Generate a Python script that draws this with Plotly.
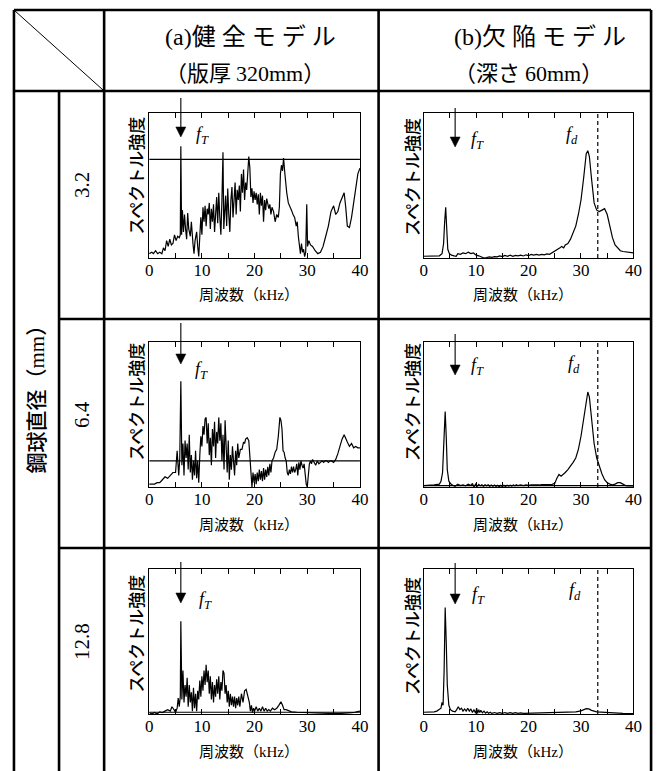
import plotly.graph_objects as go

# page geometry: the page body has an 8px margin, so the figure is offset by OFF
PAGE_W, PAGE_H = 664, 771
OFF = 8
W, H = PAGE_W - OFF, PAGE_H - OFF

# ---------------- data (normalised spectral intensity, frame height = 1) ----------------
freq_a32 = [0.0,0.5,0.8,1.2,1.6,2.0,2.4,2.7,3.0,3.3,3.6,3.9,4.2,4.5,4.8,5.1,5.4,5.7,5.9,6.0,6.15,6.3,6.5,6.7,6.9,7.1,7.3,7.5,7.8,8.0,8.3,8.5,8.7,9.0,9.2,9.4,9.6,9.8,10.0,10.2,10.4,10.6,10.8,11.0,11.2,11.4,11.6,11.8,12.0,12.2,12.4,12.6,12.8,13.0,13.2,13.4,13.6,13.8,14.0,14.15,14.3,14.5,14.7,14.9,15.1,15.3,15.5,15.7,15.9,16.1,16.3,16.5,16.7,16.9,17.1,17.3,17.5,17.7,17.9,18.1,18.3,18.5,18.7,18.9,19.1,19.3,19.5,19.7,19.9,20.1,20.3,20.5,20.7,20.9,21.1,21.3,21.5,21.7,21.9,22.1,22.3,22.5,22.7,22.9,23.1,23.3,23.6,23.9,24.2,24.5,24.7,24.9,25.1,25.3,25.5,25.7,25.9,26.1,26.4,26.7,27.0,27.3,27.6,27.9,28.1,28.3,28.5,28.7,28.9,29.1,29.3,29.5,29.7,29.9,30.05,30.3,30.6,31.0,31.5,32.0,32.5,33.0,33.5,34.0,34.5,35.0,35.4,35.8,36.2,36.6,37.0,37.3,37.6,38.0,38.4,38.8,39.2,39.6,40.0]
amp_a32 = [0.03,0.04,0.03,0.05,0.03,0.04,0.03,0.07,0.05,0.12,0.08,0.13,0.09,0.10,0.16,0.12,0.15,0.14,0.16,0.77,0.16,0.33,0.18,0.30,0.20,0.13,0.31,0.20,0.15,0.25,0.10,0.03,0.12,0.18,0.08,0.01,0.15,0.28,0.16,0.35,0.25,0.36,0.22,0.34,0.30,0.38,0.20,0.34,0.25,0.37,0.18,0.30,0.42,0.24,0.45,0.28,0.16,0.40,0.73,0.20,0.35,0.43,0.22,0.48,0.30,0.18,0.40,0.49,0.28,0.44,0.52,0.30,0.47,0.40,0.50,0.32,0.58,0.45,0.61,0.40,0.52,0.47,0.60,0.70,0.62,0.42,0.48,0.38,0.46,0.40,0.45,0.37,0.44,0.30,0.45,0.36,0.43,0.25,0.40,0.33,0.41,0.38,0.34,0.37,0.30,0.35,0.32,0.25,0.30,0.28,0.35,0.58,0.64,0.60,0.69,0.60,0.50,0.45,0.38,0.36,0.33,0.30,0.28,0.22,0.25,0.15,0.08,0.03,0.10,0.04,0.06,0.01,0.04,0.37,0.08,0.12,0.09,0.08,0.05,0.03,0.04,0.08,0.15,0.22,0.32,0.36,0.30,0.32,0.38,0.42,0.45,0.35,0.22,0.21,0.28,0.38,0.50,0.58,0.62]

freq_a64 = [0.0,0.5,1.0,1.5,2.0,2.5,3.0,3.5,4.0,4.5,5.0,5.3,5.6,5.8,6.0,6.2,6.4,6.6,6.8,7.0,7.2,7.4,7.6,7.8,8.0,8.2,8.4,8.6,8.8,9.0,9.2,9.4,9.6,9.8,10.0,10.2,10.4,10.6,10.8,11.0,11.2,11.4,11.6,11.8,12.0,12.2,12.4,12.6,12.8,13.0,13.2,13.4,13.6,13.8,14.0,14.2,14.4,14.6,14.8,15.0,15.2,15.4,15.6,15.8,16.0,16.2,16.4,16.6,16.8,17.0,17.3,17.6,17.9,18.1,18.3,18.6,18.9,19.1,19.3,19.5,19.7,19.9,20.1,20.3,20.5,20.7,20.9,21.1,21.3,21.5,21.7,21.9,22.1,22.3,22.5,22.7,22.9,23.1,23.3,23.6,23.9,24.2,24.5,24.8,25.0,25.2,25.4,25.6,25.8,26.0,26.2,26.4,26.6,26.8,27.0,27.2,27.4,27.6,27.8,28.0,28.2,28.4,28.6,28.8,29.0,29.2,29.4,29.6,29.8,30.0,30.2,30.4,30.6,30.8,31.0,31.3,31.6,31.9,32.2,32.5,32.8,33.1,33.4,33.7,34.0,34.3,34.6,35.0,35.4,35.8,36.2,36.6,37.0,37.3,37.6,38.0,38.4,38.8,39.2,39.6,40.0]
amp_a64 = [0.02,0.02,0.02,0.03,0.03,0.05,0.07,0.06,0.08,0.10,0.10,0.25,0.08,0.20,0.73,0.15,0.30,0.08,0.32,0.20,0.30,0.12,0.36,0.10,0.22,0.05,0.18,0.08,0.25,0.06,0.18,0.03,0.22,0.35,0.28,0.42,0.36,0.47,0.48,0.30,0.44,0.22,0.34,0.15,0.40,0.28,0.45,0.20,0.38,0.30,0.48,0.32,0.44,0.18,0.36,0.12,0.46,0.25,0.10,0.32,0.05,0.22,0.12,0.28,0.18,0.08,0.25,0.15,0.30,0.20,0.26,0.26,0.31,0.30,0.33,0.34,0.32,0.20,0.05,0.00,0.10,0.03,0.09,0.02,0.10,0.04,0.12,0.05,0.11,0.04,0.13,0.05,0.12,0.07,0.14,0.08,0.16,0.10,0.18,0.20,0.24,0.26,0.35,0.48,0.46,0.40,0.25,0.24,0.20,0.18,0.10,0.08,0.12,0.09,0.14,0.10,0.14,0.10,0.12,0.16,0.08,0.17,0.12,0.18,0.15,0.13,0.16,0.08,0.02,0.00,0.12,0.16,0.18,0.16,0.19,0.17,0.15,0.18,0.16,0.17,0.18,0.17,0.18,0.18,0.17,0.18,0.18,0.17,0.19,0.23,0.28,0.33,0.36,0.34,0.31,0.28,0.30,0.27,0.28,0.27,0.27]

freq_a128 = [0.0,0.5,1.0,1.5,2.0,2.5,3.0,3.5,4.0,4.3,4.7,5.0,5.3,5.5,5.7,5.9,6.0,6.2,6.4,6.6,6.8,7.0,7.2,7.4,7.6,7.8,8.0,8.2,8.4,8.6,8.8,9.0,9.2,9.4,9.6,9.8,10.0,10.2,10.4,10.6,10.8,11.0,11.2,11.4,11.6,11.8,12.0,12.2,12.4,12.6,12.8,13.0,13.2,13.4,13.6,13.8,14.0,14.2,14.4,14.6,14.8,15.0,15.2,15.4,15.6,15.8,16.0,16.2,16.4,16.6,16.8,17.0,17.2,17.5,17.8,18.1,18.4,18.7,19.0,19.2,19.4,19.6,19.8,20.0,20.3,20.6,20.9,21.2,21.5,21.8,22.1,22.4,22.7,23.0,23.4,23.8,24.2,24.6,25.0,25.3,25.6,26.0,26.5,27.0,28.0,29.0,30.0,31.0,32.0,33.0,34.0,35.0,36.0,37.0,38.0,38.5,39.0,39.5,40.0]
amp_a128 = [0.01,0.0,0.01,0.0,0.015,0.01,0.02,0.03,0.02,0.05,0.03,0.01,0.04,0.11,0.05,0.12,0.64,0.10,0.30,0.08,0.20,0.12,0.25,0.05,0.20,0.08,0.15,0.02,0.18,0.04,0.14,0.02,0.16,0.10,0.23,0.12,0.26,0.16,0.30,0.20,0.34,0.22,0.30,0.14,0.26,0.10,0.22,0.08,0.20,0.12,0.24,0.14,0.26,0.10,0.22,0.16,0.30,0.28,0.14,0.20,0.08,0.16,0.05,0.14,0.06,0.12,0.05,0.12,0.04,0.11,0.06,0.12,0.05,0.14,0.08,0.16,0.17,0.12,0.08,0.02,0.06,0.01,0.04,0.02,0.05,0.02,0.04,0.02,0.05,0.02,0.04,0.02,0.03,0.02,0.04,0.03,0.04,0.06,0.085,0.06,0.03,0.03,0.02,0.015,0.012,0.01,0.008,0.006,0.005,0.004,0.003,0.003,0.003,0.004,0.006,0.01,0.012,0.015,0.02]

freq_b32 = [0,1,2,3,3.5,3.8,4.0,4.2,4.4,4.6,4.9,5.3,5.8,6.2,6.5,7,7.5,8,8.5,9,9.5,10,10.5,11,11.5,12,12.5,13,13.5,14,14.5,15,15.5,16,16.5,17,17.5,18,18.5,19,19.5,20,20.5,21,21.5,22,22.5,23,23.5,24,24.5,25,25.5,26,26.3,26.7,27,27.5,28,28.5,29,29.5,30,30.5,31,31.3,31.6,32,32.5,33,33.5,34,34.5,35,35.5,36,36.5,37,37.5,38,39,40]
amp_b32 = [0.012,0.012,0.013,0.015,0.03,0.10,0.25,0.35,0.20,0.06,0.03,0.02,0.015,0.012,0.03,0.025,0.035,0.03,0.04,0.03,0.035,0.02,0.015,0.005,0.0,0.003,0.008,0.005,0.01,0.008,0.015,0.01,0.018,0.012,0.02,0.012,0.018,0.015,0.02,0.014,0.022,0.016,0.025,0.02,0.025,0.02,0.025,0.022,0.028,0.025,0.035,0.05,0.06,0.07,0.08,0.07,0.09,0.10,0.13,0.17,0.22,0.30,0.40,0.55,0.72,0.74,0.70,0.55,0.38,0.33,0.32,0.33,0.34,0.30,0.22,0.14,0.09,0.07,0.05,0.045,0.04,0.035]

freq_b64 = [0,1,2,3,3.3,3.6,3.9,4.1,4.3,4.5,4.8,5.2,5.6,6,6.5,7,7.5,8,8.5,9,9.3,9.6,9.9,10.2,10.5,10.8,11.1,11.4,11.7,12,12.3,12.6,12.9,13.2,13.5,13.8,14.1,14.4,14.7,15,15.3,15.6,15.9,16.2,16.5,16.8,17.1,17.4,17.7,18,18.5,19,19.5,20,20.5,21,21.5,22,22.5,23,23.5,24,24.5,25,25.4,25.8,26.2,26.6,27,27.5,28,28.5,29,29.5,30,30.5,31,31.3,31.6,32,32.5,33,33.5,34,34.5,35,35.5,36,36.5,37,37.5,38,38.5,39,40]
amp_b64 = [0.01,0.01,0.015,0.02,0.04,0.10,0.30,0.52,0.35,0.12,0.04,0.02,0.01,0.005,0.02,0.01,0.015,0.008,0.02,0.01,0.025,0.0,0.02,0.005,0.018,0.008,0.015,0.005,0.016,0.008,0.015,0.005,0.014,0.006,0.014,0.004,0.012,0.002,0.012,0.003,0.012,0.004,0.012,0.006,0.013,0.007,0.014,0.008,0.015,0.009,0.014,0.01,0.015,0.012,0.015,0.013,0.016,0.014,0.017,0.015,0.017,0.016,0.018,0.025,0.06,0.087,0.075,0.085,0.10,0.12,0.15,0.17,0.20,0.26,0.35,0.48,0.60,0.655,0.62,0.48,0.30,0.20,0.14,0.09,0.05,0.03,0.02,0.015,0.02,0.03,0.03,0.02,0.01,0.008,0.008]

freq_b128 = [0,1,2,2.5,3,3.3,3.5,3.7,3.9,4.1,4.3,4.5,4.8,5.1,5.5,6.0,6.3,6.6,6.9,7.2,7.5,7.8,8.1,8.4,8.7,9.0,9.3,9.6,9.9,10.1,10.3,10.5,10.7,10.9,11.2,11.5,11.8,12.1,12.4,12.7,13,13.5,14,14.5,15,15.5,16,16.5,17,17.5,18,18.5,19,20,21,22,23,24,25,26,27,28,29,30,30.5,31,31.5,32,33,34,34.5,35,36,37,38,39,40]
amp_b128 = [0.012,0.012,0.015,0.02,0.03,0.04,0.08,0.06,0.30,0.735,0.50,0.20,0.06,0.03,0.02,0.015,0.03,0.05,0.03,0.04,0.02,0.035,0.02,0.04,0.02,0.035,0.01,0.03,0.005,0.04,0.005,0.03,0.01,0.025,0.008,0.02,0.006,0.015,0.005,0.012,0.004,0.01,0.004,0.009,0.004,0.01,0.005,0.01,0.005,0.01,0.005,0.008,0.005,0.006,0.005,0.006,0.006,0.007,0.008,0.009,0.01,0.012,0.015,0.022,0.03,0.037,0.035,0.025,0.015,0.012,0.014,0.012,0.008,0.005,0.004,0.003,0.003]

# horizontal reference levels (None = not drawn)
ref_level = {"a32": 0.68, "a64": 0.18, "a128": 0.012, "b32": None, "b64": 0.01, "b128": None}
f_T = 6.0          # kHz, arrow position
f_d = 33.2         # kHz, dashed line in defect model

header_a = ["(a)", "健全モデル", "（版厚", "320mm", "）"]
header_b = ["(b)", "欠陥モデル", "（深さ", "60mm", "）"]
row_titles = ["3.2", "6.4", "12.8"]
row_axis_title = "鋼球直径"
ylab = "スペクトル強度"
xlab = "周波数"

# ---------------- layout geometry (page pixels) ----------------
col_x = [(148, 363), (428, 642)]
row_y = [(113, 258), (342, 487), (569, 714)]

def px(x):
    return (x - OFF) / W

def py(y):
    return 1 - (y - OFF) / H

SERIF = "Liberation Serif"
SANS = "Noto Sans CJK JP"

panels = [
    ("a32", 0, 0, freq_a32, amp_a32),
    ("b32", 0, 1, freq_b32, amp_b32),
    ("a64", 1, 0, freq_a64, amp_a64),
    ("b64", 1, 1, freq_b64, amp_b64),
    ("a128", 2, 0, freq_a128, amp_a128),
    ("b128", 2, 1, freq_b128, amp_b128),
]

fig = go.Figure()
layout = dict(width=W, height=H, margin=dict(l=0, r=0, t=0, b=0),
              paper_bgcolor="white", plot_bgcolor="white", showlegend=False)
annotations = []
shapes = []

def note(x, y, text, font, angle=0, xanchor="center"):
    annotations.append(dict(x=px(x), y=py(y), xref="paper", yref="paper", text=text,
                            textangle=angle, showarrow=False, xanchor=xanchor,
                            yanchor="middle", font=font))

# arrow tail/tip pixel positions, f_T label, f_d label, ylabel centre
arrow_px = {"a32": (98, 137), "b32": (108, 147), "a64": (323, 364),
            "b64": (334, 375), "a128": (562, 603), "b128": (563, 604)}
fT_lab = {"a32": (202, 135), "b32": (483, 140), "a64": (201, 370),
          "b64": (483, 366), "a128": (205, 600), "b128": (484, 595)}
fd_lab = {"b32": (579, 136), "b64": (581, 364), "b128": (582, 591)}
ylab_pos = {"a32": (133, 176), "b32": (415, 177), "a64": (133, 402),
            "b64": (415, 402), "a128": (133, 634), "b128": (415, 636)}

fontT = dict(family=SERIF, size=18, color="black", style="italic")

for i, (key, r, c, fx, fy) in enumerate(panels, start=1):
    xs = "x" if i == 1 else f"x{i}"
    ys = "y" if i == 1 else f"y{i}"
    x0, x1 = col_x[c]
    y0, y1 = row_y[r]
    layout[f"xaxis{'' if i == 1 else i}"] = dict(
        domain=[px(x0), px(x1)], anchor=ys, range=[0, 40],
        tick0=0, dtick=10, ticks="inside", ticklen=5,
        tickwidth=1, tickcolor="black", showline=True, linecolor="black",
        linewidth=1.3, mirror="ticks", showgrid=False, zeroline=False,
        minor=dict(dtick=5, ticks="inside", ticklen=5, tickwidth=1, tickcolor="black",
                   showgrid=False),
        tickfont=dict(family=SERIF, size=17, color="black"), ticklabelstandoff=-4)
    layout[f"yaxis{'' if i == 1 else i}"] = dict(
        domain=[py(y1), py(y0)], anchor=xs, range=[0, 1],
        showticklabels=False, ticks="", showline=True, linecolor="black",
        linewidth=1.3, mirror=True, showgrid=False, zeroline=False)

    fig.add_trace(go.Scatter(x=fx, y=fy, mode="lines", xaxis=xs, yaxis=ys,
                             line=dict(color="black", width=1.2), hoverinfo="skip"))
    lvl = ref_level[key]
    if lvl is not None:
        fig.add_trace(go.Scatter(x=[0, 40], y=[lvl, lvl], mode="lines", xaxis=xs, yaxis=ys,
                                 line=dict(color="black", width=1.2), hoverinfo="skip"))
    if key.startswith("b"):
        fig.add_trace(go.Scatter(x=[f_d, f_d], y=[0, 1], mode="lines", xaxis=xs, yaxis=ys,
                                 line=dict(color="black", width=1.2, dash="4px,3px"),
                                 hoverinfo="skip"))
        lx, ly = fd_lab[key]
        note(lx, ly, "f<sub>d</sub>", fontT)

    # f_T arrow: shaft + filled head
    tail, tip = arrow_px[key]
    shapes.append(dict(type="line", xref=xs, yref="paper", x0=f_T, x1=f_T,
                       y0=py(tail), y1=py(tip - 6), line=dict(color="black", width=1.1)))
    shapes.append(dict(type="path", xref=xs, yref="paper", xsizemode="pixel",
                       ysizemode="pixel", xanchor=f_T, yanchor=py(tip),
                       path="M-5,10 L5,10 L0,0 Z", fillcolor="black",
                       line=dict(color="black", width=0.5)))
    lx, ly = fT_lab[key]
    note(lx, ly, "f<sub>T</sub>", fontT)
    lx, ly = ylab_pos[key]
    note(lx, ly, ylab, dict(family=SANS, size=17, color="black", weight=500), angle=-90)
    note((x0 + x1) / 2 - 6, y1 + 36,
         f"{xlab}（<span style='font-family:{SERIF}'>kHz</span>）",
         dict(family=SANS, size=15, color="black"))

# header texts
for hx, h in [(162, header_a), (457, header_b)]:
    note(hx, 35, f"<span style='font-family:{SERIF}'>{h[0]}</span>"
                 f"<span style='letter-spacing:6px'>{h[1]}</span>",
         dict(family=SANS, size=24, color="black"), xanchor="left")
    note(hx, 71, f"{h[2]} <span style='font-family:{SERIF}'>{h[3]}</span>{h[4]}",
         dict(family=SANS, size=22, color="black"), xanchor="left")

# row titles
for r, t in enumerate(row_titles):
    yc = (row_y[r][0] + row_y[r][1]) / 2
    note(79, yc, t, dict(family=SERIF, size=21, color="black"), angle=-90)
note(31, 394, f"{row_axis_title}（<span style='font-family:{SERIF}'>mm</span>）",
     dict(family=SANS, size=21, color="black", weight=500), angle=-90)

# table lines
LW = 2.6
def hline(xa, xb, y):
    shapes.append(dict(type="line", xref="paper", yref="paper", x0=px(xa), x1=px(xb),
                       y0=py(y), y1=py(y), line=dict(color="black", width=LW)))
def vline(x, ya, yb):
    shapes.append(dict(type="line", xref="paper", yref="paper", x0=px(x), x1=px(x),
                       y0=py(ya), y1=py(yb), line=dict(color="black", width=LW)))

hline(10, 660, 10)
hline(10, 660, 91)
hline(56, 660, 319)
hline(56, 660, 548)
vline(10, 10, 771)
vline(56, 91, 771)
vline(102, 10, 771)
vline(382, 10, 771)
vline(660, 10, 771)
shapes.append(dict(type="line", xref="paper", yref="paper", x0=px(10), y0=py(10),
                   x1=px(102), y1=py(91), line=dict(color="black", width=1)))

layout["annotations"] = annotations
layout["shapes"] = shapes
fig.update_layout(**layout)
fig.write_html("out.html")
